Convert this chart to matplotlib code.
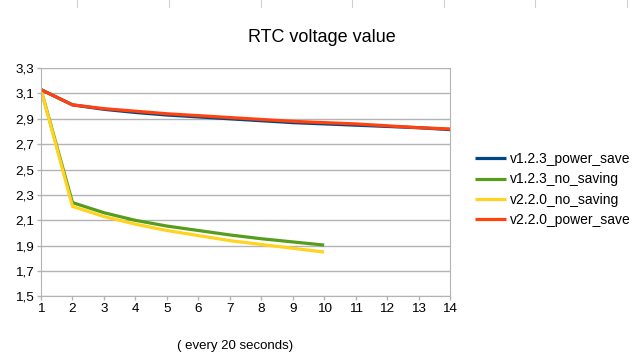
import matplotlib.pyplot as plt
from matplotlib.lines import Line2D

plt.rcParams['font.family'] = ['Liberation Sans', 'DejaVu Sans']

# Messwerte (alle 20 Sekunden)
x_lang = list(range(1, 15))
x_kurz = list(range(1, 11))
v123_power_save = [3.13, 3.01, 2.975, 2.95, 2.93, 2.915, 2.90, 2.885, 2.87, 2.86, 2.85, 2.84, 2.83, 2.815]
v123_no_saving = [3.13, 2.24, 2.16, 2.10, 2.055, 2.02, 1.985, 1.955, 1.93, 1.905]
v220_no_saving = [3.13, 2.21, 2.13, 2.07, 2.02, 1.98, 1.94, 1.91, 1.88, 1.85]
v220_power_save = [3.13, 3.01, 2.98, 2.96, 2.94, 2.925, 2.91, 2.895, 2.88, 2.87, 2.86, 2.845, 2.83, 2.82]
y_ticks = [1.5, 1.7, 1.9, 2.1, 2.3, 2.5, 2.7, 2.9, 3.1, 3.3]

fig = plt.figure(figsize=(6.37, 3.62), dpi=100)
ax = fig.add_axes([0.0644, 0.181, 0.642, 0.631])

lw = 2.3
ax.plot(x_lang, v123_power_save, color='#004586', lw=lw, label='v1.2.3_power_save', solid_capstyle='butt')
ax.plot(x_kurz, v123_no_saving, color='#579d1c', lw=lw, label='v1.2.3_no_saving', solid_capstyle='butt')
ax.plot(x_kurz, v220_no_saving, color='#ffd320', lw=lw, label='v2.2.0_no_saving', solid_capstyle='butt')
ax.plot(x_lang, v220_power_save, color='#ff420e', lw=lw, label='v2.2.0_power_save', solid_capstyle='butt')

ax.set_xlim(1, 14)
ax.set_ylim(1.5, 3.3)
ax.set_xticks(x_lang)
ax.set_yticks(y_ticks)
ax.set_yticklabels([f'{v:.1f}'.replace('.', ',') for v in y_ticks])
ax.grid(axis='y', color='#b3b3b3', lw=1)
ax.set_axisbelow(True)
for s in ax.spines.values():
    s.set_color('#b3b3b3')
ax.spines['top'].set_visible(False)
ax.tick_params(colors='#b3b3b3', labelcolor='black', labelsize=9.7, length=3, width=1, pad=2)

ax.set_xlabel('( every 20 seconds)', fontsize=9.5)
ax.xaxis.set_label_coords(0.475, -0.19)
fig.text(0.506, 0.897, 'RTC voltage value', ha='center', va='center', fontsize=13)

ax.legend(loc='upper left', bbox_to_anchor=(0.737, 0.595), bbox_transform=fig.transFigure,
          frameon=False, fontsize=10, handlelength=2.2, handletextpad=0.3,
          labelspacing=0.45, borderaxespad=0)

# Zellgitter-Reste oben
for xp in [77, 169, 261, 352, 444, 535, 627]:
    fig.add_artist(Line2D([xp / 637, xp / 637], [1, 1 - 7 / 362], color='#d0d0d0', lw=0.8))

fig.savefig('out.png', dpi=100)
